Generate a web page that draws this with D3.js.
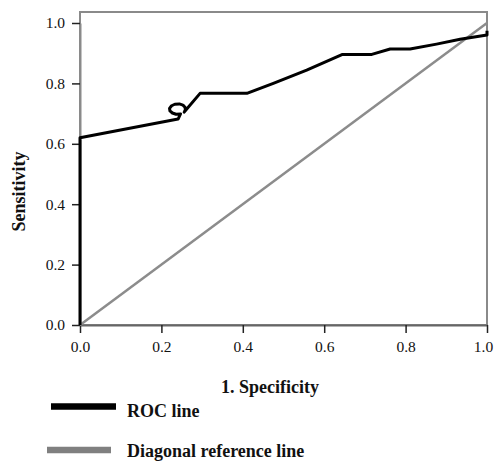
<!DOCTYPE html>
<html>
<head>
<meta charset="utf-8">
<script src="https://cdn.jsdelivr.net/npm/d3@7"></script>
<style>
  html, body { margin: 0; padding: 0; background: #fff; }
  svg { display: block; }
  svg text { font-family: "Liberation Serif", "Times New Roman", serif; fill: #111; }
  .axis text { font-size: 15.5px !important; font-family: "Liberation Serif", serif !important; }
</style>
</head>
<body>
<svg id="chart" width="494" height="462"></svg>
<script>
// ---- data ----
const xTicks = [0, 0.2, 0.4, 0.6, 0.8, 1.0];
const yTicks = [0, 0.2, 0.4, 0.6, 0.8, 1.0];
// ROC curve: 1 - specificity (fpr) and sensitivity (tpr)
const rocFpr = [0, 0, 0.241, 0.247, 0.236, 0.227, 0.221, 0.220, 0.225, 0.233, 0.244, 0.253, 0.258, 0.259, 0.256,
                0.295, 0.410, 0.475, 0.557, 0.645, 0.717, 0.762, 0.811, 0.876, 0.934, 1.0, 1.0];
const rocTpr = [0, 0.620, 0.682, 0.699, 0.698, 0.702, 0.709, 0.717, 0.726, 0.731, 0.732, 0.728, 0.721, 0.713, 0.705,
                0.767, 0.767, 0.800, 0.844, 0.896, 0.896, 0.914, 0.914, 0.930, 0.946, 0.960, 0.974];
const diagFpr = [0, 1];
const diagTpr = [0, 1];
const legendLabels = ["ROC line", "Diagonal reference line"];
const legendColors = ["#000000", "#808080"];
const xTitle = "1. Specificity";
const yTitle = "Sensitivity";

// ---- drawing ----
const svg = d3.select("#chart");
const x = d3.scaleLinear().domain([0, 1]).range([80, 487]);
const y = d3.scaleLinear().domain([0, 1]).range([325, 23]);

// plot frame
svg.append("rect")
  .attr("x", x(0)).attr("y", 12)
  .attr("width", x(1) - x(0)).attr("height", y(0) - 12)
  .attr("fill", "none").attr("stroke", "#8a8a8a").attr("stroke-width", 2);

// x axis
const xAxis = svg.append("g")
  .attr("class", "axis")
  .attr("transform", `translate(0,${y(0)})`)
  .call(d3.axisBottom(x).tickValues(xTicks).tickFormat(d3.format(".1f")).tickSize(8).tickSizeOuter(0).tickPadding(8));
xAxis.attr("font-size", 15.5).attr("font-family", "Liberation Serif");
xAxis.select(".domain").attr("stroke", "#666").attr("stroke-width", 2);
xAxis.selectAll(".tick line").attr("stroke", "#222").attr("stroke-width", 1.5);
xAxis.selectAll(".tick text").attr("fill", "#111")
  .attr("dx", d => d === 1 ? -4 : 0);

// y axis
const yAxis = svg.append("g")
  .attr("class", "axis")
  .attr("transform", `translate(${x(0)},0)`)
  .call(d3.axisLeft(y).tickValues(yTicks).tickFormat(d3.format(".1f")).tickSize(8).tickSizeOuter(0).tickPadding(7));
yAxis.attr("font-size", 15.5).attr("font-family", "Liberation Serif");
yAxis.select(".domain").attr("stroke", "#8a8a8a").attr("stroke-width", 2);
yAxis.selectAll(".tick line").attr("stroke", "#222").attr("stroke-width", 1.5);
yAxis.selectAll(".tick text").attr("fill", "#111");

// diagonal reference line
const diagData = diagFpr.map((d, i) => [d, diagTpr[i]]);
svg.append("path")
  .datum(diagData)
  .attr("fill", "none").attr("stroke", "#8c8c8c").attr("stroke-width", 2.5)
  .attr("d", d3.line().x(d => x(d[0])).y(d => y(d[1])));

// ROC line
const rocData = rocFpr.map((d, i) => [d, rocTpr[i]]);
svg.append("path")
  .datum(rocData)
  .attr("fill", "none").attr("stroke", "#000").attr("stroke-width", 3)
  .attr("stroke-linejoin", "round")
  .attr("d", d3.line().x(d => x(d[0])).y(d => y(d[1])));

// axis titles
svg.append("text")
  .attr("transform", `translate(25,${(151 + 232) / 2}) rotate(-90)`)
  .attr("text-anchor", "middle")
  .style("font-size", "18px").style("font-weight", "bold")
  .text(yTitle);

svg.append("text")
  .attr("x", 270).attr("y", 393)
  .attr("text-anchor", "middle")
  .style("font-size", "18px").style("font-weight", "bold")
  .text(xTitle);

// legend
const legendRows = [
  { lx1: 51, lx2: 116, ly: 406.5, ty: 417 },
  { lx1: 47, lx2: 111, ly: 450, ty: 457 }
];
legendLabels.forEach((lab, i) => {
  const r = legendRows[i];
  svg.append("line")
    .attr("x1", r.lx1).attr("x2", r.lx2).attr("y1", r.ly).attr("y2", r.ly)
    .attr("stroke", legendColors[i]).attr("stroke-width", 6.5);
  svg.append("text")
    .attr("x", 127).attr("y", r.ty)
    .style("font-size", "18px").style("font-weight", "bold")
    .text(lab);
});
</script>
</body>
</html>
